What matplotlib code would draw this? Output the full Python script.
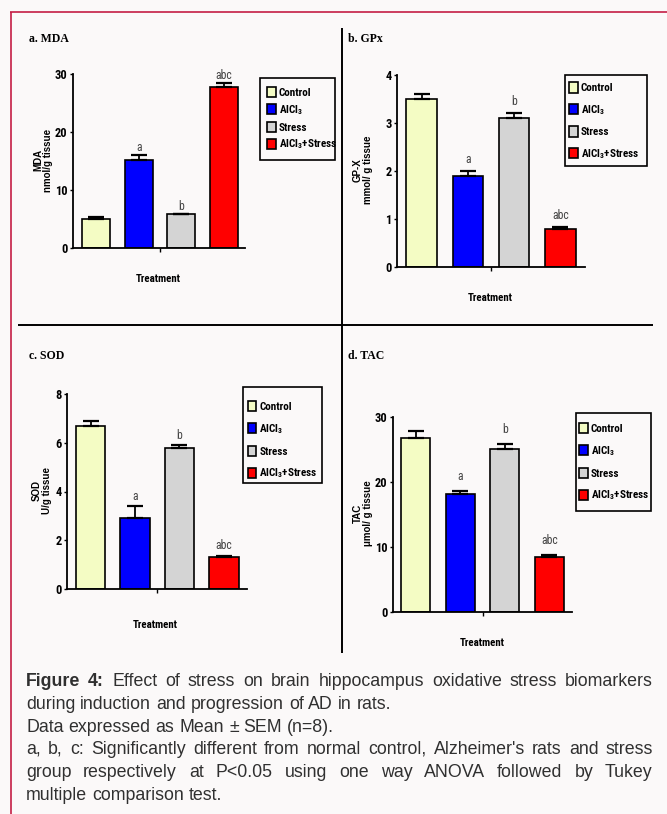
import numpy as np
import matplotlib
matplotlib.use('Agg')
import matplotlib.pyplot as plt
from matplotlib.lines import Line2D
from matplotlib.patches import Rectangle

W, H = 667, 814
BG = '#fbf9f9'
NARROW = ['Liberation Sans Narrow', 'Roboto Condensed', 'DejaVu Sans Condensed', 'Liberation Sans']
SANS = ['Liberation Sans', 'DejaVu Sans']
SERIF = ['Liberation Serif', 'DejaVu Serif']

# groups and bar colours
groups = ['Control', r'AlCl$_\mathregular{3}$', 'Stress', r'AlCl$_\mathregular{3}$+Stress']
bar_colors = ['#f4fcc4', '#0000ff', '#d4d4d4', '#ff0000']

# means, SEM and significance letters per biomarker
mda_mean = [4.95, 15.2, 5.8, 27.7]
mda_sem = [0.35, 0.75, 0.1, 0.8]
mda_sig = ['', 'a', 'b', 'abc']
mda_ticks = [0, 10, 20, 30]

gpx_mean = [3.5, 1.9, 3.1, 0.8]
gpx_sem = [0.1, 0.1, 0.1, 0.03]
gpx_sig = ['', 'a', 'b', 'abc']
gpx_ticks = [0, 1, 2, 3, 4]

sod_mean = [6.7, 2.9, 5.8, 1.3]
sod_sem = [0.2, 0.5, 0.1, 0.07]
sod_sig = ['', 'a', 'b', 'abc']
sod_ticks = [0, 2, 4, 6, 8]

tac_mean = [26.8, 18.1, 25.1, 8.4]
tac_sem = [1.1, 0.5, 0.7, 0.3]
tac_sig = ['', 'a', 'b', 'abc']
tac_ticks = [0, 10, 20, 30]

caption = [
    ([('Figure 4:', 'bold'), ('Effect of stress on brain hippocampus oxidative stress biomarkers', 'normal')], True),
    ([('during induction and progression of AD in rats.', 'normal')], False),
    ([('Data expressed as Mean \u00b1 SEM (n=8).', 'normal')], False),
    ([('a, b, c: Significantly different from normal control, Alzheimer\'s rats and stress', 'normal')], True),
    ([('group respectively at P<0.05 using one way ANOVA followed by Tukey', 'normal')], True),
    ([('multiple comparison test.', 'normal')], False),
]

# layout in pixels: axes box, key frame, key entry anchor
panels = [
    dict(title='a. MDA', ylabel='MDA\nnmol/g tissue', mean=mda_mean, sem=mda_sem, sig=mda_sig,
         ticks=mda_ticks, box=(73, 74, 245, 248), xlim=(-0.54, 3.49),
         title_xy=(29, 39), ylabel_xy=(43, 160), xlabel_xy=(158, 279),
         key_frame=(260, 78, 335, 160), key_xy=(267, 87), spacing=0.45, sig_pad=4),
    dict(title='b. GPx', ylabel='GP-X\nmmol/ g tissue', mean=gpx_mean, sem=gpx_sem, sig=gpx_sig,
         ticks=gpx_ticks, box=(397, 75, 585, 267), xlim=(-0.53, 3.53),
         title_xy=(348, 39), ylabel_xy=(363, 170), xlabel_xy=(490, 298),
         key_frame=(565, 75, 647, 166), key_xy=(569, 82.5), spacing=0.86, sig_pad=8),
    dict(title='c. SOD', ylabel='SOD\nU/g tissue', mean=sod_mean, sem=sod_sem, sig=sod_sig,
         ticks=sod_ticks, box=(67, 394, 247, 589), xlim=(-0.53, 3.52),
         title_xy=(29, 356), ylabel_xy=(42, 490), xlabel_xy=(155, 625),
         key_frame=(243, 387, 322, 483), key_xy=(247.5, 401), spacing=0.9, sig_pad=6.5),
    dict(title='d. TAC', ylabel='TAC\n\u03bcmol/ g tissue', mean=tac_mean, sem=tac_sem, sig=tac_sig,
         ticks=tac_ticks, box=(393, 417, 572, 612), xlim=(-0.51, 3.51),
         title_xy=(348, 356), ylabel_xy=(363, 513), xlabel_xy=(482, 643),
         key_frame=(576, 413, 651, 511), key_xy=(579, 423), spacing=0.9, sig_pad=11.5),
]


def fx(x):
    return x / W


def fy(y):
    return 1 - y / H


def fig_line(fig, x0, y0, x1, y1, color='black', lw=1.4):
    fig.add_artist(Line2D([fx(x0), fx(x1)], [fy(y0), fy(y1)], transform=fig.transFigure,
                          color=color, lw=lw, solid_capstyle='butt'))


fig = plt.figure(figsize=(W / 100, H / 100), dpi=100)
fig.patch.set_facecolor(BG)

# page frame and panel dividers
fig_line(fig, 10, 12, 667, 12, color='#c41e45', lw=1.2)
fig_line(fig, 10.5, 12, 10.5, 814, color='#c41e45', lw=1.2)
fig_line(fig, 342, 28, 342, 653)
fig_line(fig, 18, 325, 653, 325)

for p in panels:
    x0, y0, x1, y1 = p['box']
    ax = fig.add_axes([fx(x0), fy(y1), (x1 - x0) / W, (y1 - y0) / H])
    ax.set_facecolor('none')
    x = np.arange(len(groups))
    bars = ax.bar(x, p['mean'], width=0.66, color=bar_colors, edgecolor='black', linewidth=1.2,
                  yerr=[np.zeros(len(groups)), p['sem']],
                  error_kw=dict(ecolor='black', elinewidth=1.3, capsize=5.5, capthick=1.6))
    for xi, m, s, lab in zip(x, p['mean'], p['sem'], p['sig']):
        if lab:
            ax.annotate(lab, (xi, m + s), xytext=(0, p['sig_pad']), textcoords='offset pixels',
                        ha='center', va='baseline', fontsize=8.5, color='#444444', family=NARROW)
    ax.set_xlim(*p['xlim'])
    ax.set_ylim(0, p['ticks'][-1])
    ax.set_yticks(p['ticks'])
    ax.set_xticks([1.5])
    ax.set_xticklabels([''])
    for side in ('top', 'right'):
        ax.spines[side].set_visible(False)
    for side in ('left', 'bottom'):
        ax.spines[side].set_linewidth(1.3)
    ax.tick_params(axis='y', length=2.5, width=1, pad=1.5, labelsize=8.9)
    ax.tick_params(axis='x', length=3, width=1)
    for t in ax.get_yticklabels():
        t.set_family(NARROW)
        t.set_fontweight('bold')

    # key entries, with the box drawn separately at a fixed size
    ax.legend(bars.patches, groups, loc='upper left',
              bbox_to_anchor=(fx(p['key_xy'][0]), fy(p['key_xy'][1])),
              bbox_transform=fig.transFigure, borderaxespad=0, borderpad=0, frameon=False,
              handlelength=0.8, handleheight=1.05, handletextpad=0.25,
              labelspacing=p['spacing'],
              prop=dict(family=NARROW, weight='bold', size=8))
    kx0, ky0, kx1, ky1 = p['key_frame']
    fig.add_artist(Rectangle((fx(kx0), fy(ky1)), (kx1 - kx0) / W, (ky1 - ky0) / H,
                             transform=fig.transFigure, fill=False, ec='black', lw=1.2))

    fig.text(fx(p['title_xy'][0]), fy(p['title_xy'][1]), p['title'], ha='left', va='center',
             family=SERIF, fontweight='bold', fontsize=8.5)
    fig.text(fx(p['ylabel_xy'][0]), fy(p['ylabel_xy'][1]), p['ylabel'], rotation=90,
             ha='center', va='center', family=SANS, fontweight='bold', fontsize=7,
             linespacing=1.0, multialignment='center')
    fig.text(fx(p['xlabel_xy'][0]), fy(p['xlabel_xy'][1]), 'Treatment', ha='center', va='center',
             family=NARROW, fontweight='bold', fontsize=7.8)

# caption, justified between the left and right margins
renderer = fig.canvas.get_renderer()
cap_left, cap_right = 26, 653
cap_size = 12.8
cap_color = '#303030'
space_w = 0.278 * cap_size * 100 / 72


def word_width(word, weight):
    t = fig.text(0, 0, word, fontsize=cap_size, fontweight=weight, family=SANS)
    w = t.get_window_extent(renderer).width
    t.remove()
    return w


for i, (runs, justify) in enumerate(caption):
    baseline = round(686 + 22.8 * i)
    words = [(w, weight) for text, weight in runs for w in text.split()]
    widths = [word_width(w, weight) for w, weight in words]
    gap = space_w
    if justify and len(words) > 1:
        gap = (cap_right - cap_left - sum(widths)) / (len(words) - 1)
    xpos = cap_left
    for (w, weight), ww in zip(words, widths):
        fig.text(fx(round(xpos)), fy(baseline), w, ha='left', va='baseline', fontsize=cap_size,
                 fontweight=weight, family=SANS, color=cap_color)
        xpos += ww + gap

fig.savefig('out.png', dpi=100, facecolor=BG)
